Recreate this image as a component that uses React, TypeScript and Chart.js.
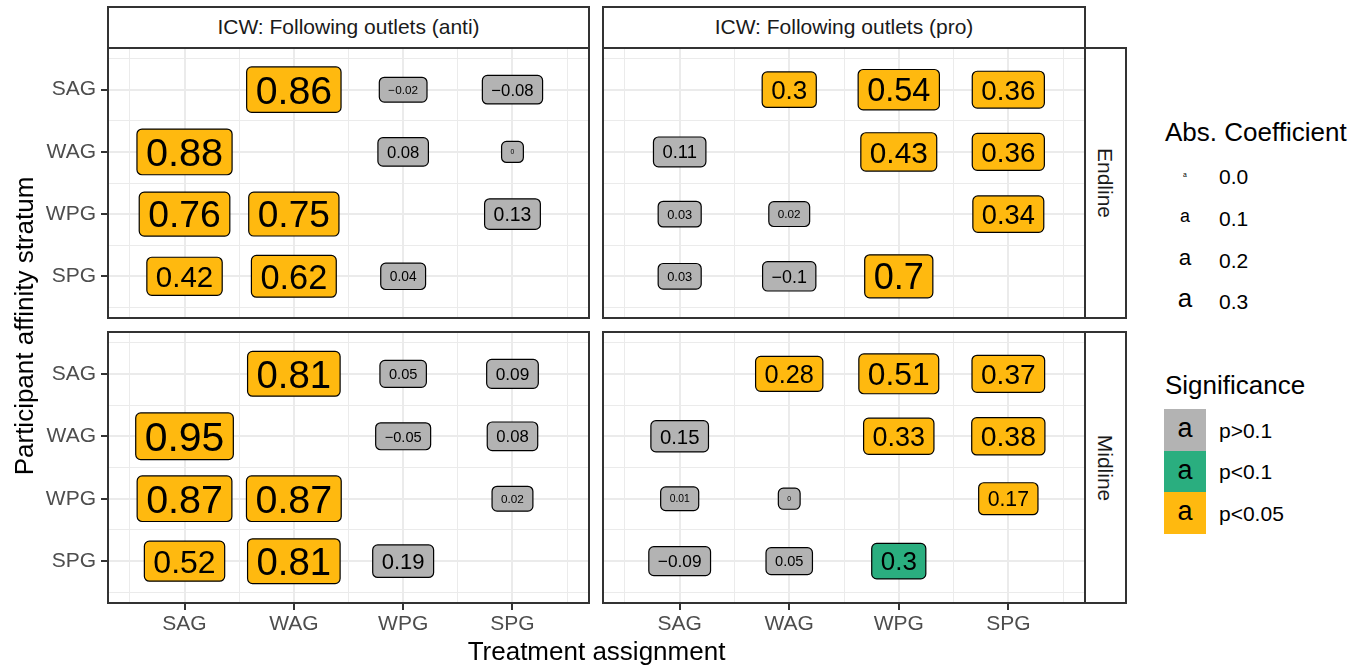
import React, { useEffect, useRef } from 'react';
import { Chart, registerables } from 'chart.js';

Chart.register(...registerables);

const FAMILY = "'Liberation Sans', Arial, Helvetica, sans-serif";

// Axis categories (treatment assignment on x, participant stratum on y)
const COLS = ['SAG', 'WAG', 'WPG', 'SPG'];
const ROWS = ['SAG', 'WAG', 'WPG', 'SPG'];
const GRID_BREAKS = [0.5, 1, 1.5, 2, 2.5, 3, 3.5, 4, 4.5];
const FACET_COLS = ['ICW: Following outlets (anti)', 'ICW: Following outlets (pro)'];
const FACET_ROWS = ['Endline', 'Midline'];

// Coefficients: rows = participant stratum (SAG, WAG, WPG, SPG), cols = treatment (SAG, WAG, WPG, SPG)
const antiEndlineCoef = [
  [null, 0.86, -0.02, -0.08],
  [0.88, null, 0.08, 0],
  [0.76, 0.75, null, 0.13],
  [0.42, 0.62, 0.04, null],
];
const antiEndlineSig = [
  [null, 2, 0, 0],
  [2, null, 0, 0],
  [2, 2, null, 0],
  [2, 2, 0, null],
];
const proEndlineCoef = [
  [null, 0.3, 0.54, 0.36],
  [0.11, null, 0.43, 0.36],
  [0.03, 0.02, null, 0.34],
  [0.03, -0.1, 0.7, null],
];
const proEndlineSig = [
  [null, 2, 2, 2],
  [0, null, 2, 2],
  [0, 0, null, 2],
  [0, 0, 2, null],
];
const antiMidlineCoef = [
  [null, 0.81, 0.05, 0.09],
  [0.95, null, -0.05, 0.08],
  [0.87, 0.87, null, 0.02],
  [0.52, 0.81, 0.19, null],
];
const antiMidlineSig = [
  [null, 2, 0, 0],
  [2, null, 0, 0],
  [2, 2, null, 0],
  [2, 2, 0, null],
];
const proMidlineCoef = [
  [null, 0.28, 0.51, 0.37],
  [0.15, null, 0.33, 0.38],
  [0.01, 0, null, 0.17],
  [-0.09, 0.05, 0.3, null],
];
const proMidlineSig = [
  [null, 2, 2, 2],
  [0, null, 2, 2],
  [0, 0, null, 2],
  [0, 0, 1, null],
];

const SIG_LABELS = ['p>0.1', 'p<0.1', 'p<0.05'];
const SIG_COLORS = ['#B3B3B3', '#2AAE7F', '#FFB90F'];
const SIZE_BREAKS = [0.0, 0.1, 0.2, 0.3];
const SIZE_BREAK_LABELS = ['0.0', '0.1', '0.2', '0.3'];

const fontPx = (v: number) => 6.8 + 35 * Math.sqrt(Math.abs(v));
const fmt = (v: number) => String(v).replace('-', '\u2212');

const PAD_X = 9;
const PAD_Y = 8;

function roundRect(ctx: CanvasRenderingContext2D, x: number, y: number, w: number, h: number, r: number) {
  ctx.beginPath();
  ctx.moveTo(x + r, y);
  ctx.lineTo(x + w - r, y);
  ctx.arcTo(x + w, y, x + w, y + r, r);
  ctx.lineTo(x + w, y + h - r);
  ctx.arcTo(x + w, y + h, x + w - r, y + h, r);
  ctx.lineTo(x + r, y + h);
  ctx.arcTo(x, y + h, x, y + h - r, r);
  ctx.lineTo(x, y + r);
  ctx.arcTo(x, y, x + r, y, r);
  ctx.closePath();
}

const labelPlugin = {
  id: 'coefLabels',
  afterDatasetsDraw(chart: any) {
    const ctx = chart.ctx as CanvasRenderingContext2D;
    const meta = chart.getDatasetMeta(0);
    const pts = chart.data.datasets[0].data as any[];
    ctx.save();
    meta.data.forEach((el: any, i: number) => {
      const d = pts[i];
      const fs = fontPx(d.v);
      const txt = fmt(d.v);
      ctx.font = `${fs}px ${FAMILY}`;
      const tw = ctx.measureText(txt).width;
      const w = tw + 2 * PAD_X;
      const h = 0.75 * fs + 2 * PAD_Y;
      roundRect(ctx, el.x - w / 2, el.y - h / 2, w, h, 5);
      ctx.fillStyle = SIG_COLORS[d.s];
      ctx.fill();
      ctx.lineWidth = 1.2;
      ctx.strokeStyle = '#000000';
      ctx.stroke();
      ctx.fillStyle = '#000000';
      ctx.textAlign = 'center';
      ctx.textBaseline = 'alphabetic';
      ctx.fillText(txt, el.x, el.y + 0.716 * fs / 2);
    });
    ctx.restore();
  },
};

const framePlugin = {
  id: 'panelFrame',
  afterDraw(chart: any) {
    const { ctx, chartArea: a } = chart;
    ctx.save();
    ctx.strokeStyle = '#333333';
    ctx.lineWidth = 2;
    ctx.strokeRect(a.left, a.top, a.right - a.left, a.bottom - a.top);
    ctx.restore();
  },
};

const isMajor = (v: any) => typeof v === 'number' && Number.isInteger(v);

const zeroPad = (s: any) => {
  s.paddingTop = 0;
  s.paddingBottom = 0;
  s.paddingLeft = 0;
  s.paddingRight = 0;
};

type PanelProps = {
  coef: (number | null)[][];
  sig: (number | null)[][];
  x0: number; x1: number; y0: number; y1: number;
  showY: boolean; showX: boolean;
};

const AX_W = 100;
const AX_H = 40;
const EDGE = 3;

function Panel({ coef, sig, x0, x1, y0, y1, showY, showX }: PanelProps) {
  const ref = useRef<HTMLCanvasElement>(null);
  const left = x0 - (showY ? AX_W : EDGE);
  const top = y0 - EDGE;
  const W = (x1 - x0) + (showY ? AX_W : EDGE) + EDGE;
  const H = (y1 - y0) + EDGE + (showX ? AX_H : EDGE);

  useEffect(() => {
    const data: any[] = [];
    coef.forEach((row, r) =>
      row.forEach((v, c) => {
        if (v !== null) data.push({ x: c + 1, y: r + 1, v, s: sig[r][c] });
      })
    );
    const chart = new Chart(ref.current as HTMLCanvasElement, {
      type: 'scatter',
      data: { datasets: [{ data, pointRadius: 0, pointHoverRadius: 0 }] as any },
      options: {
        animation: false,
        responsive: false,
        events: [],
        layout: {
          autoPadding: false,
          padding: { top: EDGE, right: EDGE, left: showY ? 0 : EDGE, bottom: showX ? 0 : EDGE },
        },
        plugins: { legend: { display: false }, tooltip: { enabled: false } },
        scales: {
          x: {
            type: 'linear',
            min: 0.3,
            max: 4.7,
            afterBuildTicks: (s: any) => { s.ticks = GRID_BREAKS.map((v) => ({ value: v })); },
            afterFit: (s: any) => { s.height = showX ? AX_H : 0; zeroPad(s); },
            border: { display: false },
            grid: {
              color: '#EBEBEB',
              lineWidth: (c: any) => (isMajor(c.tick && c.tick.value) ? 2 : 1),
              drawTicks: showX,
              tickLength: 7,
              tickWidth: 2,
              tickColor: (c: any) => (isMajor(c.tick && c.tick.value) ? '#333333' : 'rgba(0,0,0,0)'),
            },
            ticks: {
              display: showX,
              autoSkip: false,
              maxRotation: 0,
              padding: 2,
              color: '#4D4D4D',
              font: { family: FAMILY, size: 21 },
              callback: (v: any) => (isMajor(v) ? COLS[v - 1] : ''),
            },
          },
          y: {
            type: 'linear',
            reverse: true,
            min: 0.33,
            max: 4.67,
            afterBuildTicks: (s: any) => { s.ticks = GRID_BREAKS.map((v) => ({ value: v })); },
            afterFit: (s: any) => { s.width = showY ? AX_W : 0; zeroPad(s); },
            border: { display: false },
            grid: {
              color: '#EBEBEB',
              lineWidth: (c: any) => (isMajor(c.tick && c.tick.value) ? 2 : 1),
              drawTicks: showY,
              tickLength: 7,
              tickWidth: 2,
              tickColor: (c: any) => (isMajor(c.tick && c.tick.value) ? '#333333' : 'rgba(0,0,0,0)'),
            },
            ticks: {
              display: showY,
              autoSkip: false,
              padding: 5,
              color: '#4D4D4D',
              font: { family: FAMILY, size: 21 },
              callback: (v: any) => (isMajor(v) ? ROWS[v - 1] : ''),
            },
          },
        },
      } as any,
      plugins: [labelPlugin, framePlugin],
    });
    return () => chart.destroy();
  }, []);

  return (
    <canvas
      ref={ref}
      width={W}
      height={H}
      style={{ position: 'absolute', left, top, width: W, height: H }}
    />
  );
}

function Txt({ x, y, size, color = '#000000', align = 'left', rotate = 0, children }: any) {
  const shift = align === 'center' ? '-50%' : align === 'right' ? '-100%' : '0';
  return (
    <div
      style={{
        position: 'absolute', left: x, top: y, width: 0, height: 0,
        transform: rotate ? `rotate(${rotate}deg)` : undefined,
      }}
    >
      <div
        style={{
          position: 'absolute', left: 0, top: -0.8465 * size,
          transform: `translateX(${shift})`, whiteSpace: 'nowrap',
          fontFamily: FAMILY, fontSize: size, lineHeight: `${size}px`, color,
        }}
      >
        {children}
      </div>
    </div>
  );
}

const stripStyle: React.CSSProperties = {
  position: 'absolute', boxSizing: 'border-box', border: '2px solid #333333', background: '#FFFFFF',
};

export default function App() {
  const PX = [[108, 589], [603, 1085]];
  const PY = [[48, 318], [332, 603]];
  const grids = [
    [[antiEndlineCoef, antiEndlineSig], [proEndlineCoef, proEndlineSig]],
    [[antiMidlineCoef, antiMidlineSig], [proMidlineCoef, proMidlineSig]],
  ];
  const sizeRows = [176, 218, 260, 301];
  const keyTops = [409, 451, 492];
  const keyH = [42, 41, 42];

  return (
    <div style={{ position: 'absolute', left: 0, top: 0, width: 1366, height: 669, overflow: 'hidden', background: '#FFFFFF' }}>
      {/* column strips */}
      {FACET_COLS.map((t, c) => (
        <div key={'cs' + c} style={{ ...stripStyle, left: PX[c][0] - 1, top: 6, width: PX[c][1] - PX[c][0] + 2, height: 43 }} />
      ))}
      {FACET_COLS.map((t, c) => (
        <Txt key={'ct' + c} x={(PX[c][0] + PX[c][1]) / 2} y={34} size={21} color="#1A1A1A" align="center">{t}</Txt>
      ))}
      {/* row strips */}
      {FACET_ROWS.map((t, r) => (
        <div key={'rs' + r} style={{ ...stripStyle, left: 1084, top: PY[r][0] - 1, width: 43, height: PY[r][1] - PY[r][0] + 2 }} />
      ))}
      {FACET_ROWS.map((t, r) => (
        <Txt key={'rt' + r} x={1098} y={(PY[r][0] + PY[r][1]) / 2} size={21} color="#1A1A1A" align="center" rotate={90}>{t}</Txt>
      ))}
      {/* panels */}
      {[0, 1].map((r) =>
        [0, 1].map((c) => (
          <Panel
            key={`p${r}${c}`}
            coef={grids[r][c][0] as any}
            sig={grids[r][c][1] as any}
            x0={PX[c][0]} x1={PX[c][1]} y0={PY[r][0]} y1={PY[r][1]}
            showY={c === 0}
            showX={r === 1}
          />
        ))
      )}
      {/* axis titles */}
      <Txt x={596.5} y={660} size={26} align="center">Treatment assignment</Txt>
      <Txt x={33} y={325.5} size={26} align="center" rotate={-90}>Participant affinity stratum</Txt>
      {/* size legend */}
      <Txt x={1165} y={141} size={26}>Abs. Coefficient</Txt>
      {SIZE_BREAKS.map((b, i) => {
        const f = fontPx(b);
        return (
          <React.Fragment key={'sz' + i}>
            <Txt x={1185} y={sizeRows[i] + 0.26 * f} size={f} align="center">a</Txt>
            <Txt x={1219} y={sizeRows[i] + 7.5} size={21}>{SIZE_BREAK_LABELS[i]}</Txt>
          </React.Fragment>
        );
      })}
      {/* significance legend */}
      <Txt x={1165} y={394} size={26}>Significance</Txt>
      {SIG_LABELS.map((l, i) => {
        const cy = keyTops[i] + keyH[i] / 2;
        return (
          <React.Fragment key={'sg' + i}>
            <div style={{ position: 'absolute', left: 1164, top: keyTops[i], width: 42, height: keyH[i], background: SIG_COLORS[i] }} />
            <Txt x={1185} y={cy + 1 + 0.26 * 27} size={27} align="center">a</Txt>
            <Txt x={1219} y={cy + 7.5} size={21}>{l}</Txt>
          </React.Fragment>
        );
      })}
    </div>
  );
}
